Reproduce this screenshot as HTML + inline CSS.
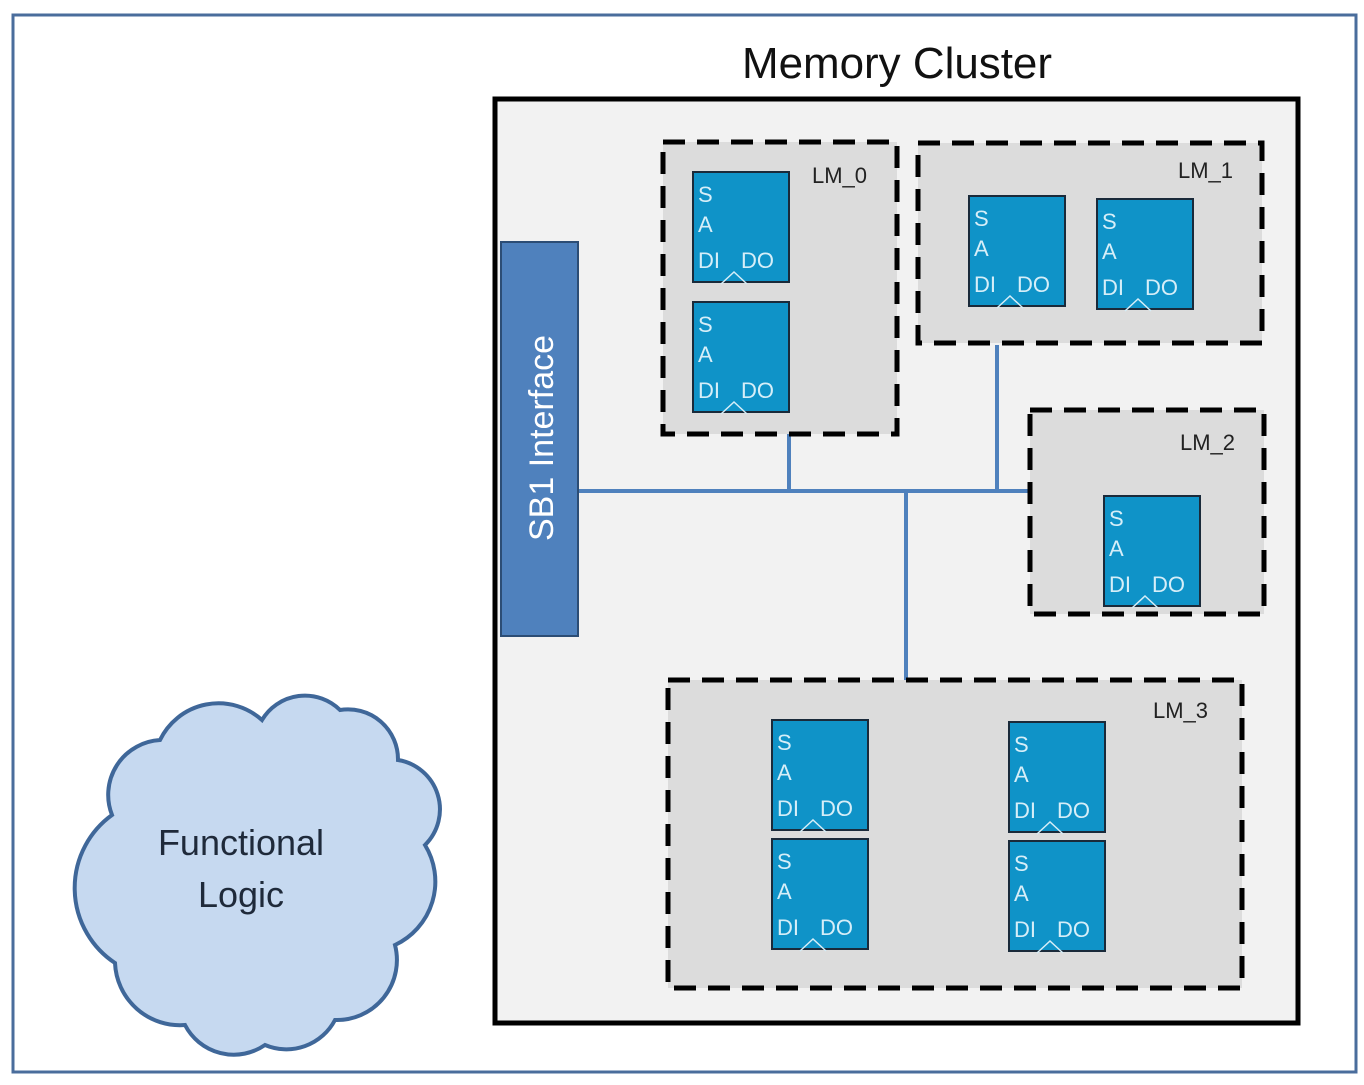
<!DOCTYPE html>
<html><head><meta charset="utf-8"><style>
html,body{margin:0;padding:0;background:#fff;}
svg{display:block;}
text{font-family:"Liberation Sans",sans-serif;}
</style></head><body>
<svg width="1364" height="1085" viewBox="0 0 1364 1085" xmlns="http://www.w3.org/2000/svg">
<rect x="13" y="15" width="1343" height="1057" fill="#fff" stroke="#4a6d9c" stroke-width="3"/>
<text x="897" y="78" font-size="44" text-anchor="middle" fill="#111" textLength="310" lengthAdjust="spacingAndGlyphs">Memory Cluster</text>
<rect x="495" y="99" width="803" height="924" fill="#f2f2f2" stroke="#000" stroke-width="5"/>
<g stroke="#4f81bd" stroke-width="4">
<line x1="578" y1="491" x2="1030" y2="491"/>
<line x1="789" y1="434" x2="789" y2="491"/>
<line x1="997" y1="345" x2="997" y2="491"/>
<line x1="906" y1="491" x2="906" y2="680"/>
</g>
<rect x="501" y="242" width="77" height="394" fill="#4f81bd" stroke="#2c4d75" stroke-width="2"/>
<text transform="translate(553,438) rotate(-90)" font-size="34" text-anchor="middle" fill="#fff">SB1 Interface</text>
<g fill="#dcdcdc" stroke="#000" stroke-width="5" stroke-dasharray="22,12">
<rect x="663" y="142" width="234" height="292"/>
<rect x="918" y="143" width="344" height="200"/>
<rect x="1030" y="410" width="234" height="204"/>
<rect x="668" y="680" width="574" height="308"/>
</g>
<g font-size="22" fill="#222">
<text x="812" y="183">LM_0</text>
<text x="1178" y="178">LM_1</text>
<text x="1180" y="450">LM_2</text>
<text x="1153" y="718">LM_3</text>
</g>
<defs>
<g id="blk">
<rect x="0" y="0" width="96" height="110" fill="#0f93c8" stroke="#1a2a3a" stroke-width="2"/>
<g fill="#d6eef8" font-size="22">
<text x="5" y="30">S</text>
<text x="5" y="60">A</text>
<text x="5" y="96">DI</text>
<text x="48" y="96">DO</text>
</g>
<polyline points="28,112 41,100 54,112" fill="none" stroke="#d6eef8" stroke-width="1.5"/>
</g>
</defs>
<use href="#blk" x="693" y="172"/>
<use href="#blk" x="693" y="302"/>
<use href="#blk" x="969" y="196"/>
<use href="#blk" x="1097" y="199"/>
<use href="#blk" x="1104" y="496"/>
<use href="#blk" x="772" y="720"/>
<use href="#blk" x="772" y="839"/>
<use href="#blk" x="1009" y="722"/>
<use href="#blk" x="1009" y="841"/>
<path d="M115,963 A90,90 0 0 1 112,815 A55,55 0 0 1 160,740 A65,65 0 0 1 262,720 A50,50 0 0 1 340,710 A50,50 0 0 1 398,760 A50,50 0 0 1 425,845 A70,70 0 0 1 395,945 A60,60 0 0 1 335,1020 A55,55 0 0 1 265,1045 A55,55 0 0 1 185,1025 A65,65 0 0 1 115,963 Z" fill="#c6d9f0" stroke="#3f6799" stroke-width="4"/>
<text x="241" y="855" font-size="36" text-anchor="middle" fill="#1f2a3a">Functional</text>
<text x="241" y="907" font-size="36" text-anchor="middle" fill="#1f2a3a">Logic</text>
</svg>
</body></html>
